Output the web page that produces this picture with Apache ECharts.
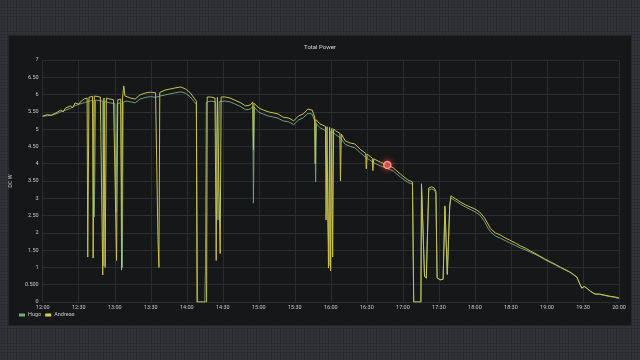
<!DOCTYPE html>
<html>
<head>
<meta charset="utf-8">
<script src="https://cdn.jsdelivr.net/npm/echarts@6/dist/echarts.min.js"></script>
<style>
  html, body { margin: 0; padding: 0; width: 640px; height: 360px; overflow: hidden; }
  body {
    background-color: #323439;
    background-image: radial-gradient(#25272b 0.9px, transparent 1.1px);
    background-size: 3px 3px;
    position: relative;
  }
  #panel { position: absolute; left: 8px; top: 35px; width: 622px; height: 289px; background: #161719; border: 1px solid #24262b; }
  #chart { position: absolute; left: 0; top: 0; width: 640px; height: 360px; }
</style>
</head>
<body>
<div id="panel"></div>
<div id="chart"></div>
<script>
// time in minutes since midnight, power values
const xTickLabels = ['12:00','12:30','13:00','13:30','14:00','14:30','15:00','15:30','16:00','16:30','17:00','17:30','18:00','18:30','19:00','19:30','20:00'];
const yTickLabels = ['0','0.500','1','1.50','2','2.50','3','3.50','4','4.50','5','5.50','6','6.50','7'];

const hugoTimes = [720,724,727,731,735,739,743,747,752,755,757,760,762,763,764,768,770,770.8,771.6,776,780,781,782,785,786.3,787,790,793,797,801,806,810,814,818,822,826,830,835,839,843,846,848,849,855,855.5,856.3,860,864,866,867,872,876,880,885,889,893,895,895.5,896.3,900,904,908,912,916,920,925,929,933,937,941,944.5,946.5,947.3,948,951,955.5,958.6,959.5,962.3,964,968,972,976,980,985,989,995,1001,1005,1012,1018,1024,1028,1029,1035,1035.5,1037,1038,1039.5,1040.5,1041.5,1044,1046,1047.5,1048.5,1051,1053.5,1055,1056,1057,1058,1059,1060,1064,1068,1072,1076,1080,1084,1088,1091,1093,1097,1101,1105,1109,1114,1118,1122,1126,1130,1134,1138,1143,1147,1151,1155,1159,1162,1165,1167,1169,1171,1172.5,1174,1176,1180,1184,1188,1192,1196,1200];
const hugoPower = [5.37,5.39,5.40,5.44,5.50,5.55,5.60,5.68,5.74,5.77,5.79,5.82,5.83,2.46,5.84,5.82,5.81,1.05,5.80,5.76,5.74,2.60,5.74,5.76,1.00,5.78,5.81,5.79,5.76,5.87,5.92,5.94,5.92,5.96,5.99,6.02,6.05,6.08,6.04,5.93,5.80,5.71,0,0,0.87,5.78,5.81,5.79,2.37,5.80,5.81,5.79,5.73,5.65,5.56,5.58,5.66,2.86,5.63,5.49,5.43,5.38,5.35,5.32,5.24,5.21,5.13,5.26,5.33,5.46,5.43,5.24,3.47,5.16,5.04,4.96,1.05,4.93,4.89,4.84,4.75,4.56,4.50,4.46,4.30,4.19,4.04,3.94,3.89,3.79,3.61,3.46,3.41,0,0,3.36,3.34,0.75,0.69,0.72,3.24,3.27,3.24,3.14,0.70,0.64,0.66,2.74,2.75,0.80,0.80,2.75,3.01,2.92,2.83,2.75,2.68,2.61,2.52,2.33,2.13,2.03,1.91,1.85,1.78,1.71,1.63,1.56,1.51,1.44,1.38,1.31,1.23,1.14,1.07,1.00,0.93,0.86,0.79,0.71,0.54,0.40,0.45,0.49,0.37,0.31,0.23,0.22,0.19,0.16,0.14,0.10];

const andreasTimes = [720,724,727,731,735,737,739,743,745,747,750,752,755,757,757.5,758.5,760,761.5,762,763,764,766,768,769.5,770,771,771.5,772,773,776,779,780.5,781.5,782.5,784,785,785.7,786.5,787.5,788.5,790,793,797,801,806,810,814,815.5,816,816.8,817.5,818,822,826,830,835,839,843,846,848,848.5,856.5,857,860,863.5,864.5,865.5,867,867.8,868.6,872,876,880,885,889,893,895,895.5,896,900,904,908,912,916,920,925,929,933,937,941,944.5,946.5,947,947.5,951,955.5,956,956.8,957.5,958,959,959.8,960.8,961.5,962.3,964,967.5,968,968.7,972,976,980,985,989,989.5,990.2,994.5,995,995.7,1001,1005,1012,1018,1024,1028,1029,1035,1035.5,1037,1038,1039.5,1040.5,1041.5,1044,1046,1047.5,1048.5,1051,1053.5,1055,1056,1057,1058,1059,1060,1064,1068,1072,1076,1080,1084,1088,1091,1093,1097,1101,1105,1109,1114,1118,1122,1126,1130,1134,1138,1143,1147,1151,1155,1159,1162,1165,1167,1169,1171,1172.5,1174,1176,1180,1184,1188,1192,1196,1200];
const andreasPower = [5.38,5.42,5.40,5.47,5.55,5.50,5.61,5.67,5.62,5.76,5.72,5.81,5.88,5.90,1.30,5.92,5.93,5.95,1.27,5.96,5.96,5.94,5.93,5.92,0.78,5.90,5.90,1.00,5.90,5.87,5.85,5.84,1.20,5.85,5.86,5.87,0.93,5.90,6.25,5.96,5.92,5.90,5.87,5.99,6.05,6.07,6.05,6.05,1.80,1.00,6.06,6.10,6.13,6.16,6.19,6.22,6.16,6.05,5.90,5.81,0,0,5.93,5.93,5.90,1.20,5.92,5.92,1.40,5.93,5.93,5.90,5.84,5.76,5.67,5.70,5.79,4.40,5.75,5.61,5.55,5.50,5.47,5.44,5.35,5.32,5.24,5.38,5.44,5.58,5.55,5.35,4.00,5.28,5.15,5.08,2.37,5.07,5.06,0.98,5.05,0.90,5.02,1.30,5.00,4.95,4.88,3.50,4.86,4.66,4.60,4.57,4.40,4.30,3.85,4.28,4.16,3.80,4.14,4.05,3.99,3.88,3.70,3.53,3.47,0,0,3.42,3.40,0.75,0.69,0.72,3.30,3.33,3.30,3.20,0.70,0.64,0.66,2.78,2.80,0.80,0.80,2.80,3.07,2.98,2.89,2.81,2.75,2.69,2.60,2.43,2.25,2.12,2.00,1.94,1.86,1.79,1.70,1.62,1.56,1.48,1.41,1.33,1.25,1.16,1.09,1.01,0.94,0.87,0.80,0.72,0.55,0.40,0.45,0.50,0.38,0.32,0.23,0.23,0.20,0.17,0.15,0.12];

const highlightPoint = [1007, 3.96];

const chart = echarts.init(document.getElementById('chart'), null, { renderer: 'canvas' });
const zip = (ts, vs) => ts.map((t, i) => [t, vs[i]]);
const txt = '#c7c8ca';
const gridColor = '#2a2c32';

chart.setOption({
  animation: false,
  backgroundColor: 'transparent',
  title: {
    text: 'Total Power', left: 'center', top: 39,
    textStyle: { color: '#d8d9da', fontSize: 6, fontWeight: 'normal', fontFamily: 'Roboto' }
  },
  legend: {
    left: 19, top: 312, padding: 0, itemWidth: 6, itemHeight: 3, itemGap: 4,
    icon: 'rect', data: ['Hugo', 'Andreas'],
    textStyle: { color: txt, fontSize: 5.5, fontFamily: 'Roboto', padding: [0, 0, 0, -2] }
  },
  grid: { left: 42, right: 21, top: 60, bottom: 58 },
  xAxis: {
    type: 'value', min: 720, max: 1200, interval: 30,
    axisLine: { show: false }, axisTick: { show: false },
    axisLabel: { color: txt, fontSize: 5.5, fontFamily: 'Roboto', margin: 3,
      formatter: v => xTickLabels[Math.round((v - 720) / 30)] },
    splitLine: { show: true, lineStyle: { color: gridColor, width: 1 } }
  },
  yAxis: {
    type: 'value', min: 0, max: 7, interval: 0.5,
    name: 'DC W', nameLocation: 'middle', nameGap: 24, nameRotate: 90,
    nameTextStyle: { color: txt, fontSize: 5.5, fontFamily: 'Roboto' },
    axisLine: { show: false }, axisTick: { show: false },
    axisLabel: { color: txt, fontSize: 5.5, fontFamily: 'Roboto', margin: 4,
      formatter: v => yTickLabels[Math.round(v / 0.5)] },
    splitLine: { show: true, lineStyle: { color: gridColor, width: 1 } }
  },
  series: [
    { name: 'Hugo', type: 'line', data: zip(hugoTimes, hugoPower), showSymbol: false, symbol: 'none',
      color: '#78a878', lineStyle: { width: 1, color: '#6f9f76' } },
    { name: 'Andreas', type: 'line', data: zip(andreasTimes, andreasPower), showSymbol: false, symbol: 'none',
      color: '#d8cf4a', lineStyle: { width: 1, color: '#c9c24a' } },
    { name: 'marker', type: 'scatter', data: [highlightPoint], symbolSize: 7,
      itemStyle: { color: '#e8524a', borderColor: '#ffb0a8', borderWidth: 1.5, shadowBlur: 6, shadowColor: 'rgba(255,70,70,0.9)' }, z: 5 }
  ]
});
</script>
</body>
</html>
